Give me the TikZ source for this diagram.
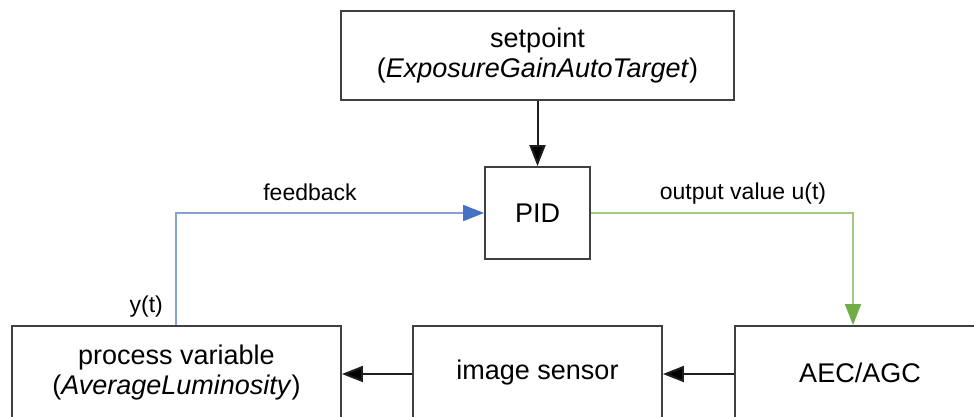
\documentclass[tikz,border=0pt]{standalone}
\usepackage{fontspec}
\setmainfont{Liberation Sans}
\usetikzlibrary{arrows.meta}
\definecolor{boxline}{HTML}{404040}
\definecolor{fbline}{RGB}{135,160,210}
\definecolor{fbhead}{HTML}{4472C4}
\definecolor{outline}{RGB}{160,200,130}
\definecolor{outhead}{HTML}{70AD47}
\tikzset{
  blk/.style={draw=boxline, line width=1.8pt, fill=white, align=center, inner sep=0pt,
    font=\fontsize{27}{30}\selectfont},
  lbl/.style={font=\fontsize{23}{26}\selectfont, inner sep=0pt},
  blackarr/.style={line width=2pt, draw={rgb,255:red,30;green,30;blue,30},
    -{Triangle[length=21pt,width=16pt,fill={rgb,255:red,0;green,0;blue,0}]}},
  fbarr/.style={line width=1.8pt, draw=fbline, -{Triangle[length=21pt,width=16pt,color=fbhead,fill=fbhead]}},
  outarr/.style={line width=1.8pt, draw=outline, -{Triangle[length=21pt,width=16pt,color=outhead,fill=outhead]}}
}
\begin{document}
\begin{tikzpicture}[x=1pt,y=-1pt]
\useasboundingbox (0,0) rectangle (974,417);
\node[blk, minimum width=393pt, minimum height=89pt] (sp) at (537.5,55.5)
  {setpoint\\(\textit{ExposureGainAutoTarget})};
\node[blk, minimum width=105pt, minimum height=92pt] (pid) at (537.5,213) {PID};
\node[blk, minimum width=329pt, minimum height=94pt] (pv) at (176.5,373)
  {process variable\\(\textit{AverageLuminosity})};
\node[blk, minimum width=249pt, minimum height=94pt] (is) at (537.5,373) {image sensor};
\node[blk, minimum width=250pt, minimum height=94pt] (aec) at (860,373) {AEC/AGC};
\coordinate (fbc) at (176,213);
\coordinate (outc) at (853,213);
\draw[blackarr] (sp.south) -- (pid.north);
\draw[fbarr] (pv.north -| fbc) -- (fbc) -- (pid.west);
\draw[outarr] (pid.east) -- (outc) -- (aec.north -| outc);
\draw[blackarr] ([yshift=-1pt]aec.west) -- ([yshift=-1pt]is.east);
\draw[blackarr] ([yshift=-1pt]is.west) -- ([yshift=-1pt]pv.east);
\node[lbl] (fbl) at (310,192) {feedback};
\node[lbl] (outl) at (743,194) {output value u(t)};
\node[lbl, anchor=east] (yl) at (163,307) {y(t)};
\end{tikzpicture}
\end{document}
